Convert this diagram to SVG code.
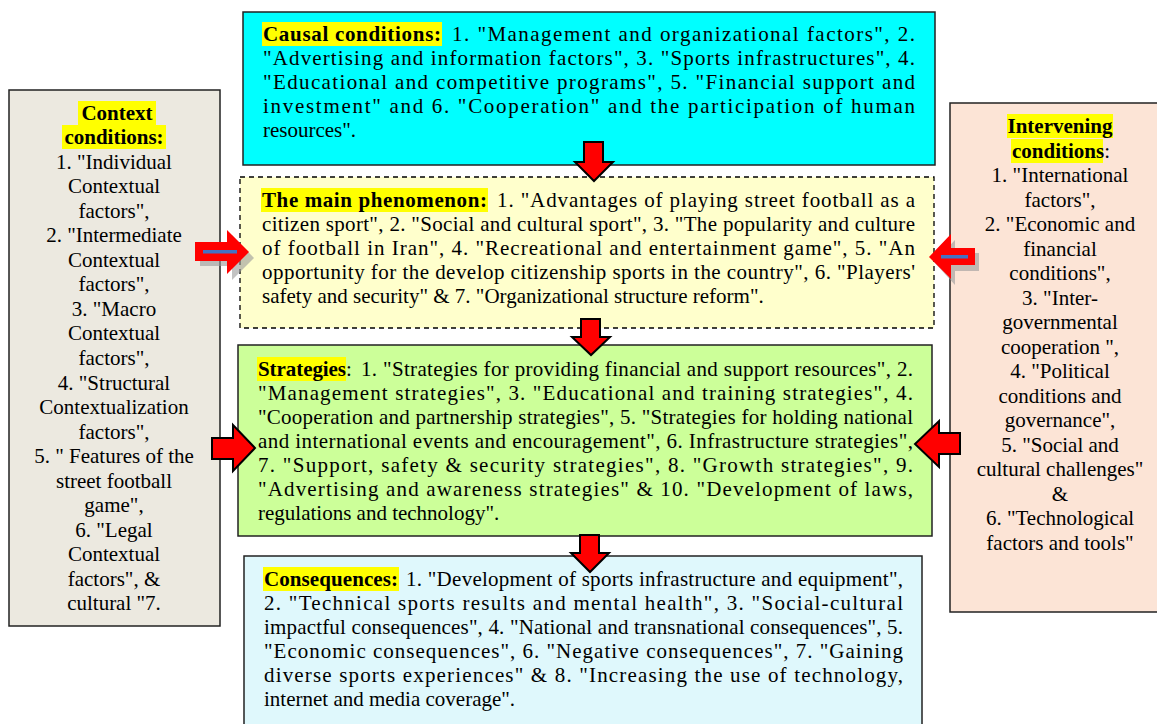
<svg xmlns="http://www.w3.org/2000/svg" width="1157" height="724" viewBox="0 0 1157 724">
<defs>
<style>
text{font-family:"Liberation Serif","Times New Roman",serif;font-size:21px;fill:#000}
.b{font-weight:bold}
.c{text-anchor:middle}
.box{stroke:#222;stroke-width:1.5}
.hl{fill:#ffff00}
.arr{fill:#ff0000;stroke:#000;stroke-width:2}
.arr2{fill:#ff0000}
.sh{fill:#999;opacity:0.6}
</style>
</defs>
<rect width="1157" height="724" fill="#fff"/>

<g id="causal">
<rect class="box" x="243" y="12" width="692" height="153" fill="#00ffff"/>
<rect class="hl" x="262" y="22" width="180" height="24"/>
<text class="b" x="263" y="41" textLength="178" lengthAdjust="spacing">Causal conditions:</text>
<text x="452" y="41" textLength="463" lengthAdjust="spacing">1. "Management and organizational factors", 2.</text>
<text x="263" y="65" textLength="652" lengthAdjust="spacing">"Advertising and information factors", 3. "Sports infrastructures", 4.</text>
<text x="263" y="89" textLength="652" lengthAdjust="spacing">"Educational and competitive programs", 5. "Financial support and</text>
<text x="263" y="113" textLength="652" lengthAdjust="spacing">investment" and 6. "Cooperation" and the participation of human</text>
<text x="263" y="137">resources".</text>
</g>

<g id="main">
<rect x="240" y="177" width="694" height="151" fill="#ffffcc" stroke="#000" stroke-width="1.3" stroke-dasharray="5,4"/>
<rect class="hl" x="261" y="188" width="227" height="24"/>
<text class="b" x="262" y="207" textLength="225" lengthAdjust="spacing">The main phenomenon:</text>
<text x="497" y="207" textLength="418" lengthAdjust="spacing">1. "Advantages of playing street football as a</text>
<text x="262" y="231" textLength="653" lengthAdjust="spacing">citizen sport", 2. "Social and cultural sport", 3. "The popularity and culture</text>
<text x="262" y="255" textLength="653" lengthAdjust="spacing">of football in Iran", 4. "Recreational and entertainment game", 5. "An</text>
<text x="262" y="279" textLength="653" lengthAdjust="spacing">opportunity for the develop citizenship sports in the country", 6. "Players'</text>
<text x="262" y="303">safety and security" &amp; 7. "Organizational structure reform".</text>
</g>

<g id="strategies">
<rect class="box" x="238" y="345" width="694" height="191" fill="#ccff99"/>
<rect class="hl" x="257" y="357" width="89" height="24"/>
<text class="b" x="258" y="376" textLength="88" lengthAdjust="spacing">Strategies</text><text x="346" y="376">:</text>
<text x="361" y="376" textLength="552" lengthAdjust="spacing">1. "Strategies for providing financial and support resources", 2.</text>
<text x="258" y="400" textLength="655" lengthAdjust="spacing">"Management strategies", 3. "Educational and training strategies", 4.</text>
<text x="258" y="424" textLength="655" lengthAdjust="spacing">"Cooperation and partnership strategies", 5. "Strategies for holding national</text>
<text x="258" y="448" textLength="655" lengthAdjust="spacing">and international events and encouragement", 6. Infrastructure strategies",</text>
<text x="258" y="472" textLength="655" lengthAdjust="spacing">7. "Support, safety &amp; security strategies", 8. "Growth strategies", 9.</text>
<text x="258" y="496" textLength="655" lengthAdjust="spacing">"Advertising and awareness strategies" &amp; 10. "Development of laws,</text>
<text x="258" y="520">regulations and technology".</text>
</g>

<g id="consequences">
<rect class="box" x="244" y="556" width="678" height="175" fill="#dff8fc"/>
<rect class="hl" x="263" y="567" width="136" height="24"/>
<text class="b" x="264" y="586" textLength="134" lengthAdjust="spacing">Consequences:</text>
<text x="406" y="586" textLength="497" lengthAdjust="spacing">1. "Development of sports infrastructure and equipment",</text>
<text x="264" y="610" textLength="639" lengthAdjust="spacing">2. "Technical sports results and mental health", 3. "Social-cultural</text>
<text x="264" y="634" textLength="639" lengthAdjust="spacing">impactful consequences", 4. "National and transnational consequences", 5.</text>
<text x="264" y="658" textLength="639" lengthAdjust="spacing">"Economic consequences", 6. "Negative consequences", 7. "Gaining</text>
<text x="264" y="682" textLength="639" lengthAdjust="spacing">diverse sports experiences" &amp; 8. "Increasing the use of technology,</text>
<text x="264" y="706">internet and media coverage".</text>
</g>

<g id="context">
<rect class="box" x="9" y="90" width="211" height="536" fill="#ece9e0"/>
<rect class="hl" x="78" y="101" width="78" height="24"/>
<rect class="hl" x="62" y="125" width="104" height="24"/>
<text class="b c" x="117" y="120">Context</text>
<text class="b c" x="114" y="144">conditions:</text>
<text class="c" x="114" y="169">1. "Individual</text>
<text class="c" x="114" y="193">Contextual</text>
<text class="c" x="114" y="218">factors",</text>
<text class="c" x="114" y="242">2. "Intermediate</text>
<text class="c" x="114" y="267">Contextual</text>
<text class="c" x="114" y="291">factors",</text>
<text class="c" x="114" y="316">3. "Macro</text>
<text class="c" x="114" y="340">Contextual</text>
<text class="c" x="114" y="365">factors",</text>
<text class="c" x="114" y="390">4. "Structural</text>
<text class="c" x="114" y="414">Contextualization</text>
<text class="c" x="114" y="439">factors",</text>
<text class="c" x="114" y="463">5. " Features of the</text>
<text class="c" x="114" y="488">street football</text>
<text class="c" x="114" y="512">game",</text>
<text class="c" x="114" y="537">6. "Legal</text>
<text class="c" x="114" y="561">Contextual</text>
<text class="c" x="114" y="586">factors", &amp;</text>
<text class="c" x="114" y="610">cultural "7.</text>
</g>

<g id="intervening">
<rect class="box" x="950" y="103" width="215" height="509" fill="#fce4d6"/>
<rect class="hl" x="1007" y="114" width="106" height="24"/>
<rect class="hl" x="1011" y="139" width="92" height="24"/>
<text class="b c" x="1060" y="133">Intervening</text>
<text x="1012" y="158"><tspan class="b">conditions</tspan>:</text>
<text class="c" x="1060" y="182">1. "International</text>
<text class="c" x="1060" y="207">factors",</text>
<text class="c" x="1060" y="231">2. "Economic and</text>
<text class="c" x="1060" y="256">financial</text>
<text class="c" x="1060" y="280">conditions",</text>
<text class="c" x="1060" y="305">3. "Inter-</text>
<text class="c" x="1060" y="329">governmental</text>
<text class="c" x="1060" y="354">cooperation ",</text>
<text class="c" x="1060" y="378">4. "Political</text>
<text class="c" x="1060" y="403">conditions and</text>
<text class="c" x="1060" y="427">governance",</text>
<text class="c" x="1060" y="452">5. "Social and</text>
<text class="c" x="1060" y="476">cultural challenges"</text>
<text class="c" x="1060" y="501">&amp;</text>
<text class="c" x="1060" y="525">6. "Technological</text>
<text class="c" x="1060" y="550">factors and tools"</text>
</g>

<g id="connectors">
<polygon class="arr" points="584,142 603,142 603,162 613,162 594,181 575,162 584,162"/>
<polygon class="arr" points="581,319 600,319 600,337 610,337 591,355 572,337 581,337"/>
<polygon class="arr" points="580,535 599,535 599,553 609,553 590,572 571,553 580,553"/>
<polygon class="sh" points="200,248 232,248 232,235 254,258 232,280 232,266 200,266"/>
<polygon class="arr2" points="195,242 227,242 227,230 249,252 227,274 227,261 195,261"/>
<rect x="203" y="250" width="34" height="3.5" fill="#4472c4"/>
<polygon class="sh" points="979,253 955,253 955,240 934,262 955,285 955,271 979,271"/>
<polygon class="arr2" points="975,248 951,248 951,234 929,257 951,279 951,265 975,265"/>
<rect x="941" y="255" width="27" height="3.5" fill="#4472c4"/>
<polygon class="arr" points="212,438 233,438 233,425 255,448 233,471 233,459 212,459"/>
<polygon class="arr" points="960,433 939,433 939,421 915,444 939,467 939,454 960,454"/>
</g>
</svg>
